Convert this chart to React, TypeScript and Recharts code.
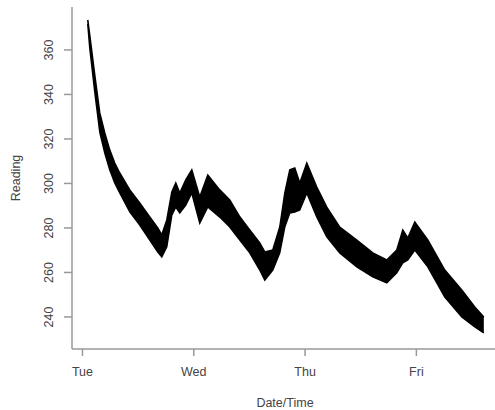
import React from "react";
import { ComposedChart, Area, XAxis, YAxis } from "recharts";

// hours since Tue 00:00
const hours = [1.14, 1.57, 2.65, 3.73, 4.81, 5.88, 6.96, 8.04, 10.2, 12.35, 14.51, 16.24, 17.1, 18.18, 19.26, 20.12, 20.98, 22.27, 23.57, 25.29, 27.02, 29.6, 31.76, 33.92, 36.07, 38.23, 39.31, 41.03, 42.54, 43.62, 44.7, 45.78, 46.86, 48.37, 50.52, 52.68, 55.48, 59.15, 62.6, 65.62, 67.77, 69.07, 70.15, 71.66, 74.46, 78.13, 81.79, 84.6, 86.54];
const highs = [373.5, 366.7, 348.8, 331.7, 322.7, 315.1, 309.2, 304.7, 297.1, 291.2, 285.0, 280.0, 276.9, 283.6, 296.2, 300.2, 295.7, 301.6, 306.1, 293.9, 303.8, 297.1, 292.6, 285.0, 279.1, 273.3, 269.2, 270.1, 280.4, 295.7, 306.1, 307.0, 300.2, 309.2, 298.4, 289.4, 280.4, 274.6, 268.8, 265.6, 270.1, 279.1, 275.5, 282.7, 274.6, 261.1, 252.1, 244.5, 240.0];
const lows = [371.7, 360.9, 341.1, 323.1, 313.7, 306.1, 300.2, 295.7, 287.2, 281.3, 274.6, 269.2, 267.0, 271.5, 285.8, 289.4, 286.7, 290.3, 295.7, 282.2, 289.4, 284.9, 280.4, 274.6, 268.8, 261.1, 256.6, 261.1, 268.8, 280.4, 286.7, 287.2, 288.1, 295.7, 284.9, 276.0, 268.8, 262.5, 258.0, 255.3, 259.8, 264.3, 265.6, 270.1, 262.5, 248.9, 240.0, 235.5, 232.8];

const xTicks = [0, 24, 48, 72];
const xTickLabels = ["Tue", "Wed", "Thu", "Fri"];
const yTicks = [240, 260, 280, 300, 320, 340, 360];

const data = hours.map((h, i) => ({ hour: h, range: [lows[i], highs[i]] }));

const FONT = "'Liberation Sans', Arial, sans-serif";
const TEXT = "#444";

const YTick = (props: any) => {
  const { y, payload } = props;
  return (
    <text x={49} y={y} transform={`rotate(-90, 49, ${y})`} textAnchor="middle" dominantBaseline="central" fontSize={12.5} fontFamily={FONT} fill={TEXT}>
      {payload.value}
    </text>
  );
};

const XTick = (props: any) => {
  const { x, payload } = props;
  const idx = xTicks.indexOf(payload.value);
  return (
    <text x={x} y={372} textAnchor="middle" dominantBaseline="central" fontSize={12.5} fontFamily={FONT} fill={TEXT}>
      {idx >= 0 ? xTickLabels[idx] : ""}
    </text>
  );
};

export default function App() {
  return (
    <div style={{ position: "absolute", left: 0, top: 0, width: 495, height: 410, overflow: "hidden", background: "#fff" }}>
      <ComposedChart width={505} height={410} data={data} margin={{ top: 7, right: 7, bottom: 0, left: 0 }}>
        <XAxis
          dataKey="hour"
          type="number"
          domain={[-2.26, 89.6]}
          ticks={xTicks}
          tick={<XTick />}
          tickSize={7}
          tickLine={{ stroke: "#999", strokeWidth: 1.5 }}
          axisLine={{ stroke: "#999", strokeWidth: 1.5 }}
          height={61}
          allowDataOverflow
          label={{ value: "Date/Time", position: "insideBottom", offset: 3, fontSize: 12.5, fontFamily: FONT, fill: TEXT }}
        />
        <XAxis
          xAxisId="top"
          orientation="top"
          dataKey="hour"
          type="number"
          domain={[-2.26, 89.6]}
          height={0}
          tick={false}
          tickLine={false}
          axisLine={{ stroke: "#bbb", strokeWidth: 1.5 }}
        />
        <YAxis
          type="number"
          domain={[225.6, 379.3]}
          ticks={yTicks}
          tick={<YTick />}
          tickSize={8}
          tickLine={{ stroke: "#999", strokeWidth: 1.5 }}
          axisLine={{ stroke: "#999", strokeWidth: 1.5 }}
          width={72}
          allowDataOverflow
          label={{ value: "Reading", angle: -90, position: "insideLeft", offset: 16, fontSize: 12.5, fontFamily: FONT, fill: TEXT, style: { textAnchor: "middle" } }}
        />
        <Area
          type="linear"
          dataKey="range"
          stroke="#000"
          strokeWidth={1.5}
          fill="#000"
          fillOpacity={1}
          isAnimationActive={false}
          dot={false}
          activeDot={false}
        />
      </ComposedChart>
    </div>
  );
}
